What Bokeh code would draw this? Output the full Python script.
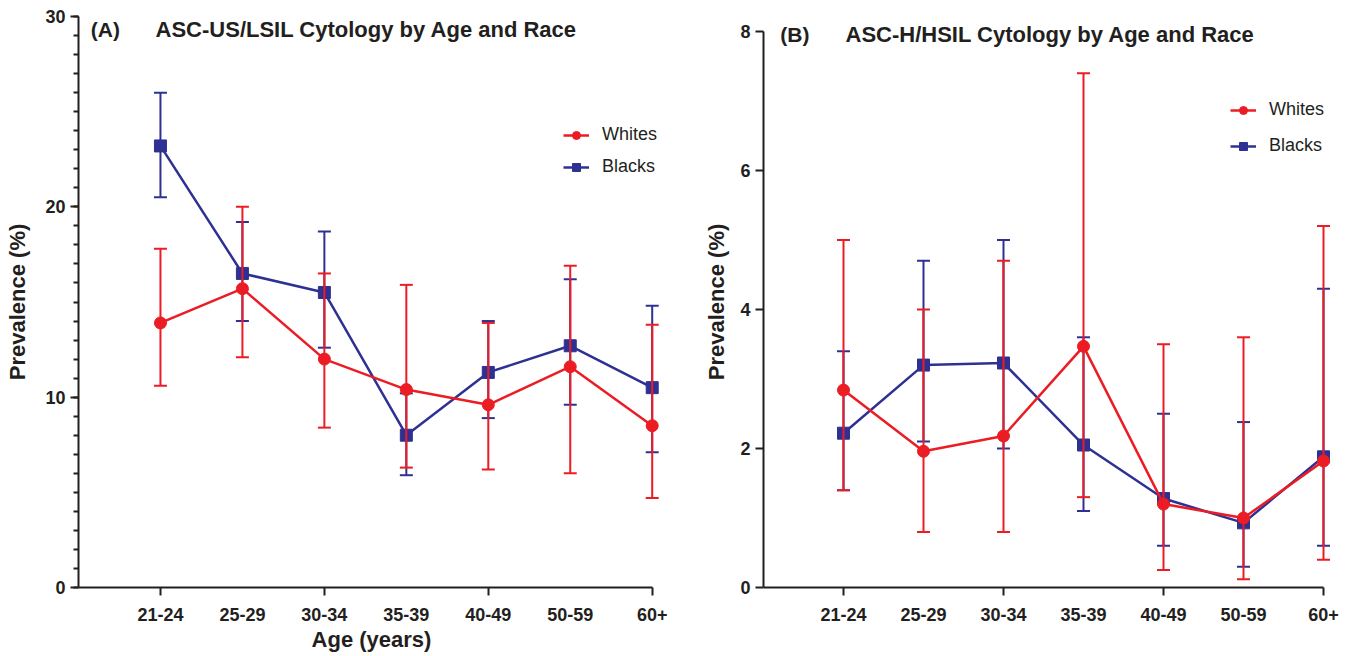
from bokeh.plotting import figure
from bokeh.models import ColumnDataSource, FixedTicker, Legend, LegendItem, Label
from bokeh.layouts import row
from bokeh.embed import file_html
from bokeh.resources import INLINE

# ---------------- data ----------------
categories = ["21-24", "25-29", "30-34", "35-39", "40-49", "50-59", "60+"]

# Panel A: ASC-US/LSIL prevalence (%)
a_white = [13.9, 15.7, 12.0, 10.4, 9.6, 11.6, 8.5]
a_white_lo = [10.6, 12.1, 8.4, 6.3, 6.2, 6.0, 4.7]
a_white_hi = [17.8, 20.0, 16.5, 15.9, 13.9, 16.9, 13.8]
a_black = [23.2, 16.5, 15.5, 8.0, 11.3, 12.7, 10.5]
a_black_lo = [20.5, 14.0, 12.6, 5.9, 8.9, 9.6, 7.1]
a_black_hi = [26.0, 19.2, 18.7, 10.2, 14.0, 16.2, 14.8]

# Panel B: ASC-H/HSIL prevalence (%)
b_white = [2.84, 1.96, 2.18, 3.47, 1.20, 1.00, 1.82]
b_white_lo = [1.40, 0.80, 0.80, 1.30, 0.25, 0.12, 0.40]
b_white_hi = [5.00, 4.00, 4.70, 7.40, 3.50, 3.60, 5.20]
b_black = [2.22, 3.20, 3.23, 2.05, 1.28, 0.93, 1.88]
b_black_lo = [1.40, 2.10, 2.00, 1.10, 0.60, 0.30, 0.60]
b_black_hi = [3.40, 4.70, 5.00, 3.60, 2.50, 2.38, 4.30]

series_names = ["Whites", "Blacks"]

FONT = "Liberation Sans"
TXT = "#231F20"
RED = "#EC1C24"
BLUE = "#2E3192"

FIG_H = 654
FRAME_TOP = 16
FRAME_BOTTOM = 588


def make_panel(width, mb_left, mb_right, y_max, y_top_px, y_major, y_minor,
               white, white_lo, white_hi, black, black_lo, black_hi,
               tag, title, tag_pos, title_pos, xlabel, legend_loc, legend_spacing,
               ylabel_standoff):
    xs = list(range(1, len(categories) + 1))
    # extend the range above the top tick so the axis top sits at y_top_px
    y_end = y_max * (FRAME_BOTTOM - FRAME_TOP) / (FRAME_BOTTOM - y_top_px)
    p = figure(width=width, height=FIG_H, x_range=(0, 7.15), y_range=(0, y_end),
               toolbar_location=None, output_backend="svg", title=None,
               min_border_left=mb_left, min_border_right=mb_right,
               min_border_top=FRAME_TOP, min_border_bottom=FIG_H - FRAME_BOTTOM)
    p.outline_line_color = None
    p.grid.visible = False

    renderers = {}
    for name, vals, lo, hi, color, marker in [
        ("Blacks", black, black_lo, black_hi, BLUE, "square"),
        ("Whites", white, white_lo, white_hi, RED, "circle"),
    ]:
        src = ColumnDataSource(dict(x=xs, y=vals, lo=lo, hi=hi))
        p.segment(x0="x", y0="lo", x1="x", y1="hi", source=src,
                  line_color=color, line_width=2)
        p.scatter(x="x", y="lo", source=src, marker="dash", size=13,
                  line_color=color, line_width=2)
        p.scatter(x="x", y="hi", source=src, marker="dash", size=13,
                  line_color=color, line_width=2)
        ln = p.line(x="x", y="y", source=src, line_color=color, line_width=2.5)
        mk = p.scatter(x="x", y="y", source=src, marker=marker, size=12,
                       fill_color=color, line_color=color)
        renderers[name] = [ln, mk]

    legend = Legend(items=[LegendItem(label=n, renderers=renderers[n]) for n in series_names],
                    location=legend_loc, orientation="vertical",
                    padding=0, margin=0, spacing=legend_spacing,
                    glyph_width=26, glyph_height=20, label_height=20,
                    label_standoff=13, border_line_color=None,
                    background_fill_alpha=0,
                    label_text_font=FONT, label_text_font_size="18px",
                    label_text_color=TXT)
    p.add_layout(legend)

    # x axis
    xa = p.xaxis[0]
    xa.ticker = FixedTicker(ticks=xs, minor_ticks=xs[::2])
    xa.major_label_overrides = {x: c for x, c in zip(xs, categories)}
    xa.major_tick_out = 0
    xa.major_tick_in = 0
    xa.major_tick_line_color = None
    xa.minor_tick_out = 8
    xa.minor_tick_in = 0
    xa.minor_tick_line_width = 2
    xa.minor_tick_line_color = TXT
    xa.axis_line_width = 2
    xa.axis_line_color = TXT
    xa.bounds = (0, 7)
    xa.major_label_standoff = 12
    xa.major_label_text_font = FONT
    xa.major_label_text_font_style = "bold"
    xa.major_label_text_font_size = "18px"
    xa.major_label_text_color = TXT
    if xlabel:
        xa.axis_label = xlabel
        xa.axis_label_standoff = 3
        xa.axis_label_text_font = FONT
        xa.axis_label_text_font_style = "bold"
        xa.axis_label_text_font_size = "22px"
        xa.axis_label_text_color = TXT

    # y axis
    ya = p.yaxis[0]
    ya.ticker = FixedTicker(ticks=y_major, minor_ticks=y_minor)
    ya.bounds = (0, y_max)
    ya.major_tick_out = 8
    ya.major_tick_in = 0
    ya.minor_tick_out = 5
    ya.minor_tick_in = 0
    ya.major_tick_line_width = 2
    ya.minor_tick_line_width = 2
    ya.major_tick_line_color = TXT
    ya.minor_tick_line_color = TXT
    ya.axis_line_width = 2
    ya.axis_line_color = TXT
    ya.major_label_standoff = 5
    ya.major_label_text_font = FONT
    ya.major_label_text_font_style = "bold"
    ya.major_label_text_font_size = "18px"
    ya.major_label_text_color = TXT
    ya.axis_label = "Prevalence (%)"
    ya.axis_label_standoff = ylabel_standoff
    ya.axis_label_text_font = FONT
    ya.axis_label_text_font_style = "bold"
    ya.axis_label_text_font_size = "22px"
    ya.axis_label_text_color = TXT

    p.add_layout(Label(x=tag_pos[0], y=tag_pos[1], text=tag, text_font=FONT,
                       text_font_style="bold", text_font_size="21px",
                       text_color=TXT, text_baseline="middle", text_align="left"))
    p.add_layout(Label(x=title_pos[0], y=title_pos[1], text=title, text_font=FONT,
                       text_font_style="bold", text_font_size="22px",
                       text_color=TXT, text_baseline="middle", text_align="left"))
    return p


pA = make_panel(698, 78, 34, 30, 16, [0, 10, 20, 30], list(range(0, 31)),
                a_white, a_white_lo, a_white_hi, a_black, a_black_lo, a_black_hi,
                "(A)", "ASC-US/LSIL Cytology by Age and Race",
                (0.15, 29.3), (0.94, 29.3), "Age (years)", (485, 410), 11, 12)

pB = make_panel(652, 65, 15, 8, 31, [0, 2, 4, 6, 8], [],
                b_white, b_white_lo, b_white_hi, b_black, b_black_lo, b_black_hi,
                "(B)", "ASC-H/HSIL Cytology by Age and Race",
                (0.21, 7.96), (1.025, 7.96), None, (467, 431), 15, 8)

layout = row(pA, pB)
open("out.html", "w").write(file_html(layout, INLINE))
